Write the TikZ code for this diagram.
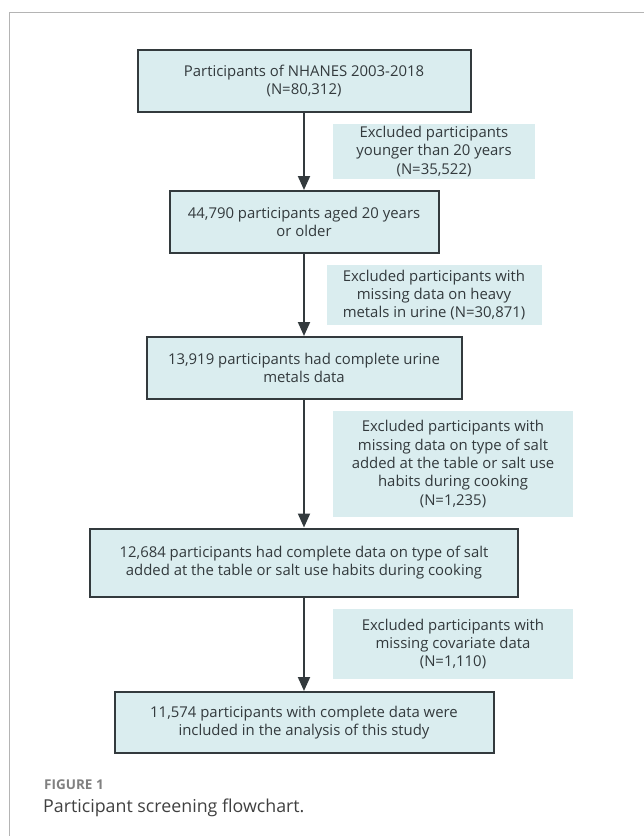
\documentclass[tikz,border=0pt]{standalone}
\usepackage{fontspec}
\setmainfont{Open Sans}
\usetikzlibrary{arrows.meta}
\definecolor{boxfill}{HTML}{DAEDEF}
\definecolor{boxline}{HTML}{333A3D}
\definecolor{framegray}{HTML}{B4B4B4}
\newcommand{\boxFont}[0]{\fontsize{14.9}{18.4}\selectfont}

\begin{document}
\begin{tikzpicture}[x=1pt,y=-1pt]
  \tikzset{box/.style={draw=boxline,line width=2pt,fill=boxfill,align=center,inner sep=0pt,font=\boxFont,text=boxline},
           excl/.style={fill=boxfill,align=center,inner sep=0pt,font=\boxFont,text=boxline},
           arr/.style={draw=boxline,line width=2pt,-{Triangle[length=14pt,width=12pt]}}}
  \useasboundingbox (0,0) rectangle (644,836);
  \draw[framegray,line width=1pt] (9,836) -- (9,12) -- (644,12);
  \node[box,minimum width=333pt,minimum height=62pt] (b1) at (304,81) {Participants of NHANES 2003-2018\\(N=80,312)};
  \node[excl,minimum width=202pt,minimum height=55pt] (e1) at (434,151.5) {Excluded participants\\younger than 20 years\\(N=35,522)};
  \node[box,minimum width=269pt,minimum height=62pt] (b2) at (304,222) {44,790 participants aged 20 years\\or older};
  \node[excl,minimum width=215pt,minimum height=60pt] (e2) at (434,295) {Excluded participants with\\missing data on heavy\\metals in urine (N=30,871)};
  \node[box,minimum width=315pt,minimum height=62pt] (b3) at (304,368) {13,919 participants had complete urine\\metals data};
  \node[excl,minimum width=240pt,minimum height=106pt] (e3) at (453,464) {Excluded participants with\\missing data on type of salt\\added at the table or salt use\\habits during cooking\\(N=1,235)};
  \node[box,minimum width=428pt,minimum height=68pt] (b4) at (304,562.5) {12,684 participants had complete data on type of salt\\added at the table or salt use habits during cooking};
  \node[excl,minimum width=240pt,minimum height=70pt] (e4) at (453,644) {Excluded participants with\\missing covariate data\\(N=1,110)};
  \node[box,minimum width=379pt,minimum height=61pt] (b5) at (304,722.5) {11,574 participants with complete data were\\included in the analysis of this study};
  \draw[arr] (b1) -- (b2);
  \draw[arr] (b2) -- (b3);
  \draw[arr] (b3) -- (b4);
  \draw[arr] (b4) -- (b5);
  \node[anchor=west,inner sep=0pt,text=gray,font=\fontsize{13.5}{15}\selectfont\bfseries] (fig) at (44,785) {FIGURE 1};
  \node[anchor=west,inner sep=0pt,text=darkgray,font=\fontsize{17.8}{20}\selectfont] (cap) at (43,808) {Participant screening flowchart.};
\end{tikzpicture}
\end{document}
